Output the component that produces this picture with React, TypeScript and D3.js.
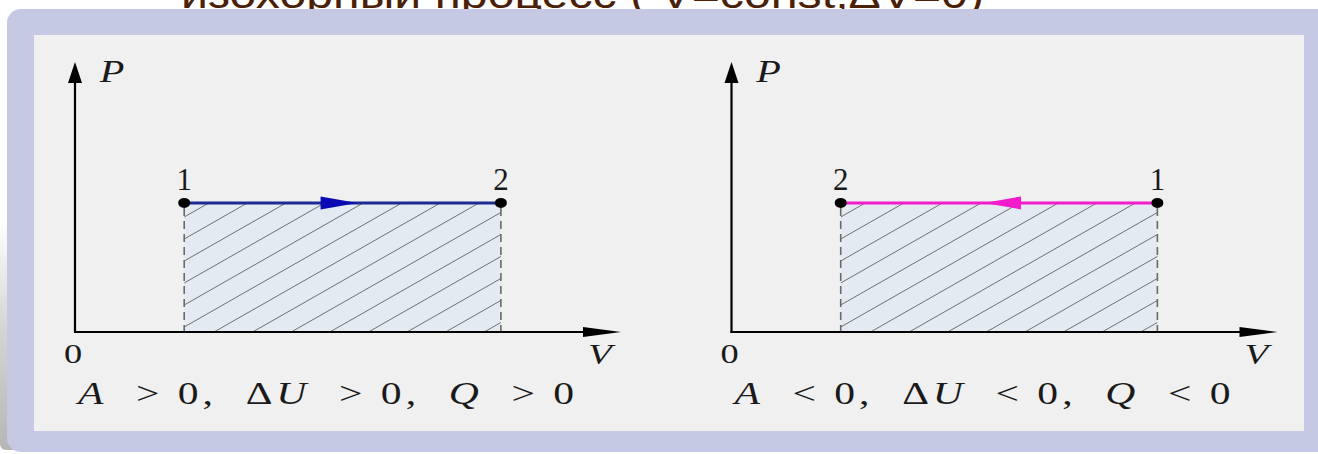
import React from "react";
import * as d3 from "d3";

// p-V diagrams: process 1 -> 2 at constant pressure, work area shaded
const titleText = "изохорный процесс ( V=const;ΔV=0)";
const panelNames = ["expansion", "compression"];
const volumeStart = [2, 7.8];
const volumeEnd = [7.8, 2];
const pressureLevel = [4.8, 4.8];
const startLabel = "1";
const endLabel = "2";
const lineColors = ["#1c2a92", "#f21ccc"];
const arrowColors = ["#0a0ab4", "#f21ccc"];
const formulaSigns = [">", "<"];
const axisLabels = { x: "V", y: "P", origin: "0" };

const W = 1318;
const H = 454;

const App = () => {
  const svgRef = React.useRef<SVGSVGElement | null>(null);

  React.useEffect(() => {
    const svgEl = d3.select(svgRef.current);
    svgEl.selectAll("*").remove();

    const defs = svgEl.append("defs");
    const grad = defs
      .append("linearGradient")
      .attr("id", "shade")
      .attr("x1", 0)
      .attr("y1", 0)
      .attr("x2", 0)
      .attr("y2", 1);
    grad.append("stop").attr("offset", "0%").attr("stop-color", "#ffffff");
    grad.append("stop").attr("offset", "45%").attr("stop-color", "#d6d6d6");
    grad.append("stop").attr("offset", "100%").attr("stop-color", "#b6b6b6");

    // title, mostly hidden behind the frame
    svgEl
      .append("text")
      .attr("x", 181)
      .attr("y", 8)
      .attr("textLength", 803)
      .attr("lengthAdjust", "spacingAndGlyphs")
      .attr("font-family", "Liberation Sans, Arial, sans-serif")
      .attr("font-size", 40)
      .attr("fill", "#4a2006")
      .text(titleText);

    // frame shadow + lavender frame + inner panel
    svgEl
      .append("rect")
      .attr("x", 0)
      .attr("y", 220)
      .attr("width", 20)
      .attr("height", 230)
      .attr("rx", 6)
      .attr("fill", "url(#shade)");
    svgEl
      .append("rect")
      .attr("x", 7)
      .attr("y", 9)
      .attr("width", W + 20)
      .attr("height", 443)
      .attr("rx", 14)
      .attr("fill", "#c6c9e3");
    svgEl
      .append("rect")
      .attr("x", 34)
      .attr("y", 35)
      .attr("width", 1270)
      .attr("height", 396)
      .attr("fill", "#f0f0f0");

    const origins = [75, 731.5];
    const axisLen = 546;
    const y = d3.scaleLinear().domain([0, 10]).range([332, 63]);
    const serif = "Liberation Serif, DejaVu Serif, serif";
    const stretch = 1.3; // the source drawing is widened horizontally

    panelNames.forEach((name, i) => {
      const ox = origins[i];
      const x = d3.scaleLinear().domain([0, 10]).range([ox, ox + axisLen]);
      const g = svgEl.append("g").attr("class", name);

      const xa = x(Math.min(volumeStart[i], volumeEnd[i]));
      const xb = x(Math.max(volumeStart[i], volumeEnd[i]));
      const yp = y(pressureLevel[i]);
      const y0 = y(0);

      // shaded work area
      const clipId = `clip-${name}`;
      defs
        .append("clipPath")
        .attr("id", clipId)
        .append("rect")
        .attr("x", xa)
        .attr("y", yp)
        .attr("width", xb - xa)
        .attr("height", y0 - yp);
      g.append("rect")
        .attr("x", xa)
        .attr("y", yp)
        .attr("width", xb - xa)
        .attr("height", y0 - yp)
        .attr("fill", "#e3eaf2");
      const slope = 0.57;
      const step = 22;
      const hatch = g.append("g").attr("clip-path", `url(#${clipId})`);
      d3.range(-16, 10).forEach((k) => {
        const yl = y0 - 5 - k * step;
        hatch
          .append("line")
          .attr("x1", xa)
          .attr("y1", yl)
          .attr("x2", xb + 10)
          .attr("y2", yl - (xb + 10 - xa) * slope)
          .attr("stroke", "#707070")
          .attr("stroke-width", 1);
      });

      // dashed verticals
      [xa, xb].forEach((xv) => {
        g.append("line")
          .attr("x1", xv)
          .attr("x2", xv)
          .attr("y1", yp + 5)
          .attr("y2", y0)
          .attr("stroke", "#6a6a6a")
          .attr("stroke-width", 1.6)
          .attr("stroke-dasharray", "8,5");
      });

      // axes
      g.append("line")
        .attr("x1", ox)
        .attr("x2", ox)
        .attr("y1", y0 + 1)
        .attr("y2", y(10) + 16)
        .attr("stroke", "#000")
        .attr("stroke-width", 2.2);
      g.append("path")
        .attr("d", `M${ox},${y(10) - 1} L${ox - 7},${y(10) + 20} L${ox + 7},${y(10) + 20} Z`)
        .attr("fill", "#000");
      g.append("line")
        .attr("x1", ox - 1)
        .attr("x2", ox + axisLen - 30)
        .attr("y1", y0)
        .attr("y2", y0)
        .attr("stroke", "#000")
        .attr("stroke-width", 2.2);
      g.append("path")
        .attr(
          "d",
          `M${ox + axisLen},${y0} L${ox + axisLen - 38},${y0 - 5} L${ox + axisLen - 38},${y0 + 5} Z`
        )
        .attr("fill", "#000");

      // axis labels (widened like the source)
      const label = (tx: number, ty: number, t: string, italic: boolean, size: number) =>
        g
          .append("text")
          .attr("transform", `translate(${tx},${ty}) scale(${stretch},1)`)
          .attr("text-anchor", "middle")
          .attr("font-family", serif)
          .attr("font-style", italic ? "italic" : "normal")
          .attr("font-size", size)
          .attr("fill", "#1a1a1a")
          .text(t);
      label(ox + 37, 82, axisLabels.y, true, 31);
      label(ox + axisLen - 21, 364, axisLabels.x, true, 30);
      label(ox - 2, 363, axisLabels.origin, false, 28);

      // process line
      const xs = x(volumeStart[i]);
      const xe = x(volumeEnd[i]);
      g.append("line")
        .attr("x1", xs)
        .attr("x2", xe)
        .attr("y1", yp)
        .attr("y2", yp)
        .attr("stroke", lineColors[i])
        .attr("stroke-width", 3);
      const dir = Math.sign(xe - xs);
      const tip = (xs + xe) / 2 + dir * 15;
      g.append("path")
        .attr("d", `M${tip},${yp} L${tip - dir * 37},${yp - 6.5} L${tip - dir * 37},${yp + 6.5} Z`)
        .attr("fill", arrowColors[i]);

      // states
      [
        { v: xs, label: startLabel },
        { v: xe, label: endLabel },
      ].forEach((s) => {
        g.append("ellipse")
          .attr("cx", s.v)
          .attr("cy", yp)
          .attr("rx", 6)
          .attr("ry", 5)
          .attr("fill", "#000");
        g.append("text")
          .attr("x", s.v)
          .attr("y", 190)
          .attr("text-anchor", "middle")
          .attr("font-family", serif)
          .attr("font-size", 31)
          .attr("fill", "#1a1a1a")
          .text(s.label);
      });

      // sign summary
      const f = g
        .append("text")
        .attr("transform", `translate(${ox + 3},404) scale(${stretch},1)`)
        .attr("textLength", 496 / stretch)
        .attr("lengthAdjust", "spacing")
        .style("white-space", "pre")
        .attr("font-family", serif)
        .attr("font-size", 32)
        .attr("fill", "#1a1a1a");
      const sgn = formulaSigns[i];
      const parts = [
        { t: "A", it: true },
        { t: `  ${sgn} 0,  Δ`, it: false },
        { t: "U", it: true },
        { t: `  ${sgn} 0,  `, it: false },
        { t: "Q", it: true },
        { t: `  ${sgn} 0`, it: false },
      ];
      parts.forEach((p) => {
        f.append("tspan")
          .attr("font-style", p.it ? "italic" : "normal")
          .text(p.t);
      });
    });
  }, []);

  return (
    <svg
      ref={svgRef}
      width={W}
      height={H}
      style={{ position: "absolute", left: 0, top: 0, background: "#fff" }}
    />
  );
};

export default App;
